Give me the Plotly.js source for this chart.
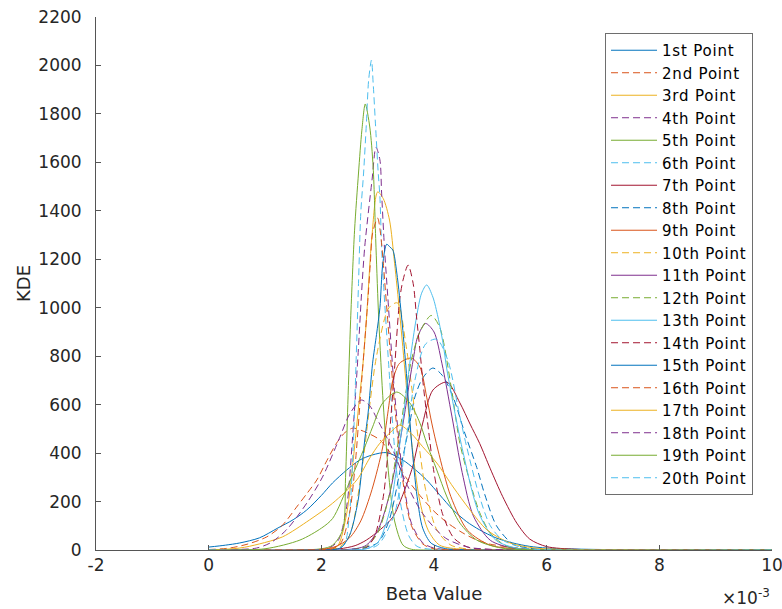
<!DOCTYPE html>
<html>
<head>
<meta charset="utf-8">
<script src="https://cdn.plot.ly/plotly-3.0.1.min.js"></script>
<style>html,body{margin:0;padding:0;background:#fff;}#chart{width:782px;height:609px;}
.legendtext{letter-spacing:0.8px;}</style>
</head>
<body>
<div id="chart"></div>
<script>
// Beta values are in units of 1e-3 (axis shows ×10^-3)
const seriesNames = ["1st Point","2nd Point","3rd Point","4th Point","5th Point","6th Point","7th Point","8th Point","9th Point","10th Point","11th Point","12th Point","13th Point","14th Point","15th Point","16th Point","17th Point","18th Point","19th Point","20th Point"];

const x1 = [0, 0.3, 0.55, 0.9, 1.23, 1.5, 1.74, 2.0, 2.2, 2.45, 2.68, 2.9, 3.16, 3.45, 3.65, 3.87, 4.1, 4.34, 4.58, 4.81, 5.1, 5.4, 5.7, 6.0, 6.5, 7, 8, 10];
const y1 = [12, 20, 29, 50, 91, 125, 165, 225, 277, 330, 371, 392, 402, 371, 335, 289, 228, 165, 117, 83, 50, 29, 15, 8, 4, 2, 1, 0];
const x2 = [0, 0.37, 0.7, 1.03, 1.3, 1.56, 1.75, 1.92, 2.1, 2.27, 2.42, 2.56, 2.75, 3.04, 3.3, 3.5, 3.75, 4.0, 4.25, 4.5, 4.75, 5.0, 5.5, 6.0, 7, 10];
const y2 = [2, 8, 25, 54, 100, 177, 235, 289, 370, 441, 485, 503, 490, 454, 375, 300, 225, 160, 110, 72, 42, 24, 8, 2, 0, 0];
const x3 = [0, 2.0, 2.2, 2.3, 2.45, 2.59, 2.65, 2.74, 2.8, 2.9, 3.0, 3.1, 3.21, 3.3, 3.39, 3.5, 3.6, 3.75, 3.9, 4.1, 4.5, 5, 10];
const y3 = [0, 2, 8, 20, 150, 425, 565, 771, 950, 1300, 1478, 1450, 1362, 1184, 978, 700, 450, 200, 80, 20, 3, 1, 0];
const x4 = [0, 2.1, 2.3, 2.45, 2.55, 2.65, 2.71, 2.77, 2.9, 2.97, 3.04, 3.07, 3.12, 3.18, 3.3, 3.45, 3.6, 3.8, 4.0, 4.5, 10];
const y4 = [0, 5, 40, 180, 450, 800, 1044, 1250, 1527, 1663, 1610, 1473, 1250, 1044, 650, 300, 110, 30, 8, 1, 0];
const x5 = [0, 2.0, 2.2, 2.38, 2.43, 2.47, 2.52, 2.59, 2.66, 2.72, 2.78, 2.86, 2.92, 2.97, 3.02, 3.1, 3.2, 3.3, 3.45, 3.6, 4, 10];
const y5 = [0, 5, 20, 83, 300, 600, 950, 1320, 1556, 1733, 1841, 1746, 1580, 1250, 949, 600, 300, 120, 20, 3, 0, 0];
const x6 = [0, 2.2, 2.4, 2.5, 2.57, 2.62, 2.66, 2.7, 2.75, 2.8, 2.84, 2.89, 2.92, 2.96, 3.01, 3.04, 3.07, 3.1, 3.2, 3.3, 3.4, 3.55, 3.7, 4.0, 10];
const y6 = [0, 3, 20, 150, 450, 800, 1100, 1390, 1556, 1762, 1940, 2022, 1927, 1762, 1556, 1457, 1250, 1114, 750, 420, 200, 60, 15, 2, 0];
const x7 = [0, 2.0, 2.33, 2.6, 2.8, 3.05, 3.27, 3.45, 3.62, 3.69, 3.8, 3.98, 4.23, 4.46, 4.64, 4.81, 5.0, 5.22, 5.47, 5.7, 6.0, 6.5, 7, 10];
const y7 = [0, 1, 5, 18, 41, 85, 136, 230, 343, 413, 524, 660, 693, 607, 520, 440, 335, 220, 111, 45, 14, 3, 1, 0];
const x8 = [0, 2.6, 3.0, 3.2, 3.4, 3.57, 3.66, 3.8, 3.98, 4.15, 4.34, 4.55, 4.76, 4.9, 5.11, 5.4, 5.8, 6.5, 10];
const y8 = [0, 5, 30, 120, 330, 524, 631, 710, 751, 720, 631, 480, 340, 230, 100, 25, 4, 1, 0];
const x9 = [0, 2.2, 2.5, 2.7, 2.9, 3.09, 3.18, 3.27, 3.39, 3.6, 3.75, 3.87, 3.96, 4.07, 4.3, 4.6, 5.0, 5.5, 6, 10];
const y9 = [0, 10, 50, 120, 250, 425, 565, 702, 771, 792, 755, 631, 524, 413, 220, 80, 20, 4, 1, 0];
const x10 = [0, 2.3, 2.5, 2.7, 2.98, 3.2, 3.35, 3.5, 3.7, 3.85, 4.05, 4.3, 4.6, 5, 10];
const y10 = [0, 10, 60, 300, 800, 1000, 1020, 850, 495, 250, 83, 20, 4, 1, 0];
const x11 = [0, 2.6, 2.8, 3.0, 3.2, 3.39, 3.48, 3.57, 3.63, 3.71, 3.85, 4.0, 4.14, 4.32, 4.5, 4.7, 5.0, 5.4, 6, 10];
const y11 = [0, 5, 20, 80, 220, 441, 565, 702, 784, 880, 935, 900, 771, 549, 320, 140, 40, 8, 1, 0];
const x12 = [0, 2.6, 2.8, 3.0, 3.2, 3.4, 3.6, 3.75, 3.95, 4.1, 4.3, 4.46, 4.64, 4.81, 5.0, 5.3, 5.8, 10];
const y12 = [0, 3, 15, 70, 220, 500, 784, 900, 968, 920, 680, 440, 280, 155, 70, 15, 2, 0];
const x13 = [0, 2.6, 2.8, 3.0, 3.2, 3.4, 3.6, 3.69, 3.78, 3.87, 3.98, 4.07, 4.16, 4.23, 4.5, 4.8, 5.1, 5.5, 6, 10];
const y13 = [0, 1, 5, 30, 150, 450, 825, 962, 1060, 1094, 1044, 962, 854, 743, 420, 150, 40, 6, 1, 0];
const x14 = [0, 2.6, 2.8, 2.95, 3.1, 3.2, 3.3, 3.39, 3.45, 3.54, 3.63, 3.69, 3.75, 3.8, 3.9, 4.0, 4.15, 4.35, 4.6, 5, 10];
const y14 = [0, 2, 10, 60, 220, 450, 750, 1032, 1114, 1176, 1100, 962, 825, 702, 500, 320, 150, 50, 12, 2, 0];
const x15 = [0, 2.2, 2.35, 2.5, 2.65, 2.77, 2.83, 2.91, 2.98, 3.04, 3.09, 3.16, 3.22, 3.27, 3.34, 3.43, 3.5, 3.6, 3.7, 3.8, 3.95, 4.2, 4.6, 10];
const y15 = [0, 2, 10, 60, 200, 454, 565, 771, 890, 1000, 1180, 1262, 1250, 1238, 1143, 949, 760, 450, 220, 90, 28, 6, 1, 0];
const x16 = [0, 2.0, 2.2, 2.35, 2.5, 2.6, 2.7, 2.83, 2.87, 2.91, 3.0, 3.05, 3.1, 3.16, 3.3, 3.45, 3.6, 3.8, 4.0, 4.5, 10];
const y16 = [0, 1, 5, 30, 150, 350, 650, 1044, 1184, 1308, 1370, 1308, 1184, 1003, 600, 280, 100, 25, 5, 1, 0];
const x17 = [0, 0.55, 0.9, 1.31, 1.79, 2.2, 2.63, 2.86, 3.04, 3.27, 3.39, 3.6, 3.8, 4.05, 4.34, 4.64, 4.94, 5.35, 5.8, 6.5, 10];
const y17 = [0, 8, 25, 54, 124, 193, 289, 380, 441, 495, 516, 480, 426, 359, 260, 165, 83, 29, 8, 2, 0];
const x18 = [0, 0.5, 0.85, 1.1, 1.38, 1.74, 2.02, 2.33, 2.5, 2.71, 2.86, 2.98, 3.27, 3.5, 3.8, 4.2, 4.6, 5.0, 6, 10];
const y18 = [0, 2, 8, 30, 83, 193, 301, 466, 560, 619, 595, 545, 413, 280, 150, 50, 12, 3, 0, 0];
const x19 = [0, 1.0, 1.62, 2.0, 2.2, 2.5, 2.77, 2.91, 3.09, 3.34, 3.57, 3.75, 3.87, 4.05, 4.23, 4.46, 4.76, 5.2, 6, 10];
const y19 = [0, 5, 41, 90, 130, 280, 425, 508, 607, 652, 607, 524, 441, 330, 219, 111, 41, 8, 1, 0];
const x20 = [0, 2.7, 3.0, 3.3, 3.5, 3.66, 3.85, 4.05, 4.25, 4.45, 4.58, 4.81, 5.0, 5.22, 5.6, 6, 10];
const y20 = [0, 3, 20, 150, 450, 700, 850, 870, 780, 560, 426, 219, 100, 41, 8, 1, 0];

const xTickVals = [-2, 0, 2, 4, 6, 8, 10];
const xTickText = ["-2", "0", "2", "4", "6", "8", "10"];
const yTickVals = [0, 200, 400, 600, 800, 1000, 1200, 1400, 1600, 1800, 2000, 2200];

const allX = [x1,x2,x3,x4,x5,x6,x7,x8,x9,x10,x11,x12,x13,x14,x15,x16,x17,x18,x19,x20];
const allY = [y1,y2,y3,y4,y5,y6,y7,y8,y9,y10,y11,y12,y13,y14,y15,y16,y17,y18,y19,y20];
const palette = ["#0072BD","#D95319","#EDB120","#7E2F8E","#77AC30","#4DBEEE","#A2142F"];

const traces = allX.map((xs, i) => ({
  x: xs, y: allY[i], name: seriesNames[i], type: 'scatter', mode: 'lines',
  line: {color: palette[i % 7], width: 1, shape: 'spline', smoothing: 0.8,
         dash: (i % 2 === 1) ? '7px,4px' : 'solid'}
}));
// empty helper trace so the overlay y-axis (inward tick marks) is drawn
traces.push({x: [], y: [], xaxis: 'x', yaxis: 'y2', type: 'scatter', mode: 'lines',
             showlegend: false, hoverinfo: 'skip'});

const fontFam = 'DejaVu Sans, sans-serif';
const layout = {
  width: 782, height: 609,
  margin: {l: 96, r: 10, t: 17, b: 59},
  paper_bgcolor: '#fff', plot_bgcolor: '#fff',
  font: {family: fontFam, size: 17, color: '#262626'},
  showlegend: true,
  legend: {x: 0.753, y: 0.97, xanchor: 'left', yanchor: 'top',
           bgcolor: '#fff', bordercolor: '#6e6e6e', borderwidth: 1,
           font: {family: fontFam, size: 15, color: '#000'}, itemwidth: 46},
  xaxis: {range: [-2, 10], tickvals: xTickVals, ticktext: xTickText, ticklabeloverflow: 'allow',
          ticks: 'inside', ticklen: 5, tickcolor: '#555', showline: true, linecolor: '#555', linewidth: 1,
          showgrid: false, zeroline: false, tickfont: {size: 17, color: '#262626'},
          title: {text: 'Beta Value', font: {size: 18, color: '#262626'}, standoff: 12}},
  yaxis: {range: [0, 2200], tickvals: yTickVals,
          ticks: 'outside', ticklen: 10, tickcolor: 'rgba(0,0,0,0)', showline: true, linecolor: '#555', linewidth: 1,
          showgrid: false, zeroline: false, tickfont: {size: 17, color: '#262626'},
          title: {text: 'KDE', font: {size: 18, color: '#262626'}, standoff: 3}},
  yaxis2: {range: [0, 2200], tickvals: yTickVals, overlaying: 'y', anchor: 'x', side: 'left',
           ticks: 'inside', ticklen: 5, tickcolor: '#555', showticklabels: false, showline: false,
           showgrid: false, zeroline: false},
  annotations: [{xref: 'paper', yref: 'paper', x: 1.0, y: -0.113, xanchor: 'right', yanchor: 'bottom',
                 text: '×10<sup>-3</sup>', showarrow: false, font: {size: 17, color: '#262626'}}]
};

Plotly.newPlot('chart', traces, layout, {displayModeBar: false, staticPlot: true});
</script>
</body>
</html>
